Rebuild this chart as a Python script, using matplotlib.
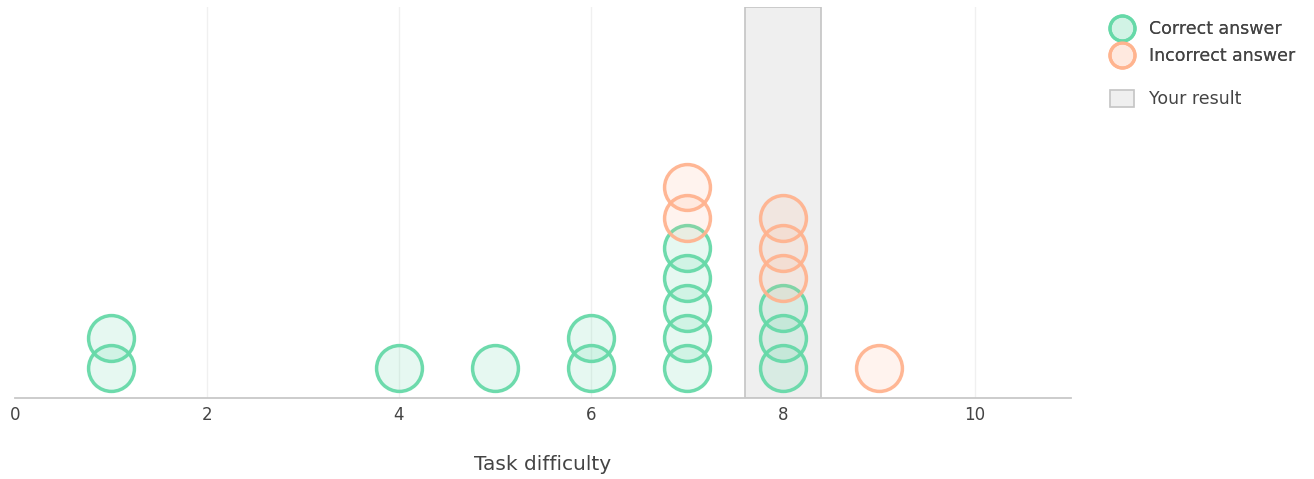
import numpy as np
from matplotlib import pyplot as plt
from matplotlib.lines import Line2D
from matplotlib.patches import Patch

plt.rcParams['font.family'] = ['DejaVu Sans']

# data: number of answers per task difficulty
difficulty = [1, 4, 5, 6, 7, 8, 9]
n_correct = [2, 1, 1, 2, 5, 3, 0]
n_incorrect = [0, 0, 0, 0, 2, 3, 1]
result_low, result_high = 7.6, 8.4

green = '#66d9a8'
orange = '#ffb48f'
green_fill = (0.4, 0.85, 0.66, 0.16)
orange_fill = (1.0, 0.7, 0.56, 0.15)

# stack the dots: correct first, incorrect on top of them
cx, cy, ix, iy = [], [], [], []
for d, c, i in zip(difficulty, n_correct, n_incorrect):
    cx += [d] * c
    cy += list(np.arange(1, c + 1))
    ix += [d] * i
    iy += list(np.arange(c + 1, c + i + 1))

fig = plt.figure(figsize=(13.14, 4.79), dpi=100)
ax = fig.add_axes([15 / 1314, 81 / 479, 1056 / 1314, 391 / 479])

ax.axvspan(result_low, result_high, facecolor='#efefef', edgecolor='#c4c4c4',
           linewidth=1.2, zorder=0.6)

kw = dict(s=1090, linewidths=2.5, zorder=3)
ax.scatter(cx, cy, facecolors=green_fill, edgecolors=(0.4, 0.85, 0.66, 0.95), **kw)
ax.scatter(ix, iy, facecolors=orange_fill, edgecolors=(1.0, 0.7, 0.56, 0.95), **kw)

ax.set_xlim(0, 11)
ax.set_ylim(0, 13)
ax.set_xticks([0, 2, 4, 6, 8, 10])
ax.set_yticks([])
ax.set_axisbelow(True)
ax.grid(axis='x', color='#f0f0f0', linewidth=1)
ax.xaxis.get_gridlines()[0].set_visible(False)
for s in ['top', 'right', 'left']:
    ax.spines[s].set_visible(False)
ax.spines['bottom'].set_color('#c8c8c8')
ax.spines['bottom'].set_linewidth(1.3)
ax.tick_params(axis='x', length=0, pad=6, labelsize=12, labelcolor='#444444')
ax.set_xlabel('Task difficulty', fontsize=14.5, color='#444444', labelpad=22)

h1 = [Line2D([], [], marker='o', linestyle='none', markersize=18, markeredgewidth=2.3,
             markerfacecolor=green_fill, markeredgecolor=green),
      Line2D([], [], marker='o', linestyle='none', markersize=18, markeredgewidth=2.3,
             markerfacecolor=orange_fill, markeredgecolor=orange)]
leg1 = fig.legend(h1, ['Correct answer', 'Incorrect answer'], loc='upper left',
                  bbox_to_anchor=(1103 / 1314, 1 - 13 / 479), frameon=False,
                  fontsize=12.5, labelcolor='#444444', handletextpad=0.85,
                  labelspacing=0.55, borderaxespad=0, handlelength=1.4)
h2 = [Patch(facecolor='#efefef', edgecolor='#c4c4c4', linewidth=1.2)]
fig.legend(h2, ['Your result'], loc='upper left',
           bbox_to_anchor=(1103 / 1314, 1 - 83 / 479), frameon=False,
           fontsize=12.5, labelcolor='#444444', handletextpad=0.85,
           borderaxespad=0, handlelength=1.4, handleheight=1.1)
fig.add_artist(leg1)

plt.savefig('out.png', dpi=100)
